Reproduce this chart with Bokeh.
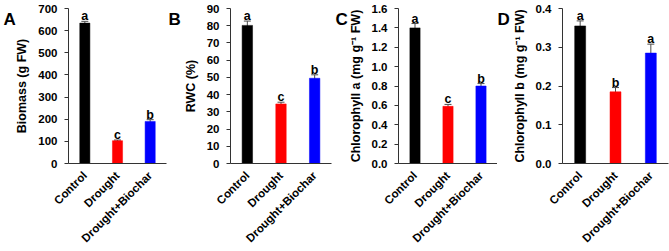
import math

from bokeh.embed import file_html
from bokeh.layouts import row
from bokeh.models import (ColumnDataSource, FactorRange, FixedTicker, Label,
                          PrintfTickFormatter, Range1d, TeeHead, Whisker)
from bokeh.plotting import figure
from bokeh.resources import INLINE
from bokeh.core.properties import value

# Treatments and colours
treatments = ["Control", "Drought", "Drought+Biochar"]
bar_colors = ["#000000", "#ff0000", "#0000ff"]

# Panel A: biomass (g FW)
biomass_mean = [634, 103, 190]
biomass_err = [8, 3, 8]
biomass_letters = ["a", "c", "b"]

# Panel B: relative water content (%)
rwc_mean = [80.2, 34.6, 49.5]
rwc_err = [2.5, 1.0, 2.0]
rwc_letters = ["a", "c", "b"]

# Panel C: chlorophyll a (mg g-1 FW)
chla_mean = [1.40, 0.59, 0.80]
chla_err = [0.045, 0.02, 0.025]
chla_letters = ["a", "c", "b"]

# Panel D: chlorophyll b (mg g-1 FW)
chlb_mean = [0.355, 0.185, 0.285]
chlb_err = [0.013, 0.011, 0.023]
chlb_letters = ["a", "b", "a"]

FONT = "Liberation Sans"
H = 251
TOP = 8
BOTTOM = 80


def panel_tag(text, x, y):
    """Bold panel letter placed in canvas pixels (top-left origin)."""
    lab = Label(x=x, y=y, text=text, text_font=FONT, text_font_style="bold",
                text_font_size="17px", text_color="black",
                text_baseline="alphabetic")
    try:
        lab.x_units = "canvas"
        lab.y_units = "canvas"
    except ValueError:
        lab.x_units = "screen"
        lab.y_units = "screen"
    return lab


def panel(tag, ylabel, means, errs, letters, ymax, ystep, fmt,
          width, left, right, tag_x):
    src = ColumnDataSource(dict(
        x=treatments,
        top=means,
        upper=[m + e for m, e in zip(means, errs)],
        lower=[m - e for m, e in zip(means, errs)],
        color=bar_colors,
        letter=letters,
    ))
    p = figure(x_range=FactorRange(*treatments, range_padding=0),
               y_range=Range1d(0, ymax),
               width=width, height=H,
               min_border_left=left, min_border_right=right,
               min_border_top=TOP, min_border_bottom=BOTTOM,
               output_backend="svg", toolbar_location=None)
    p.outline_line_color = None
    p.grid.visible = False
    p.background_fill_color = "white"
    p.border_fill_color = "white"

    p.vbar(x="x", top="top", width=0.31, source=src,
           fill_color="color", line_color="color", line_width=0.5)

    w = Whisker(base="x", upper="upper", lower="lower", source=src,
                line_color="#4d4d4d", line_width=1)
    w.upper_head = TeeHead(size=7, line_color="#4d4d4d", line_width=1)
    w.lower_head = TeeHead(size=7, line_color="#4d4d4d", line_width=1)
    p.add_layout(w)

    p.text(x="x", y="upper", text="letter", source=src,
           text_font=value(FONT), text_font_style="bold",
           text_font_size="12.5px", text_align="center",
           text_baseline="alphabetic", y_offset=-5, text_color="black")

    n = int(round(ymax / ystep))
    ticks = [round(i * ystep, 6) for i in range(n + 1)]
    p.yaxis.ticker = FixedTicker(ticks=ticks)
    p.yaxis.formatter = PrintfTickFormatter(format=fmt)
    p.yaxis.major_tick_in = 0
    p.yaxis.major_tick_out = 4
    p.yaxis.minor_tick_line_color = None
    p.yaxis.major_label_standoff = 7
    p.yaxis.major_label_text_font = FONT
    p.yaxis.major_label_text_font_style = "bold"
    p.yaxis.major_label_text_font_size = "11.5px"
    p.yaxis.major_label_text_color = "black"
    p.yaxis.axis_line_color = "#333333"
    p.yaxis.major_tick_line_color = "#333333"
    p.yaxis.axis_label = ylabel
    p.yaxis.axis_label_text_font = FONT
    p.yaxis.axis_label_text_font_style = "bold"
    p.yaxis.axis_label_text_font_size = "12.5px"
    p.yaxis.axis_label_text_color = "black"
    p.yaxis.axis_label_standoff = 6

    p.xaxis.major_tick_line_color = None
    p.xaxis.minor_tick_line_color = None
    p.xaxis.axis_line_color = "#333333"
    p.xaxis.major_label_orientation = math.pi / 4
    p.xaxis.major_label_standoff = 4
    p.xaxis.major_label_text_font = FONT
    p.xaxis.major_label_text_font_style = "bold"
    p.xaxis.major_label_text_font_size = "11.5px"
    p.xaxis.major_label_text_color = "black"

    # side-panel annotations are drawn outside the frame clip
    p.add_layout(panel_tag(tag, tag_x, 19), "left")
    return p


pa = panel("A", "Biomass (g FW)", biomass_mean, biomass_err, biomass_letters,
           700, 100, "%d", 168, 57, 2, 3)
pb = panel("B", "RWC (%)", rwc_mean, rwc_err, rwc_letters,
           90, 10, "%d", 165, 54, 2, 0)
pc = panel("C", "Chlorophyll a (mg g\u207b\u00b9 FW)", chla_mean, chla_err,
           chla_letters, 1.6, 0.2, "%.1f", 164, 58, 0, 2)
pd_ = panel("D", "Chlorophyll b (mg g\u207b\u00b9 FW)", chlb_mean, chlb_err,
            chlb_letters, 0.4, 0.1, "%.1f", 172, 62, 1, 0)

layout = row(pa, pb, pc, pd_)
open("out.html", "w").write(file_html(layout, INLINE))
